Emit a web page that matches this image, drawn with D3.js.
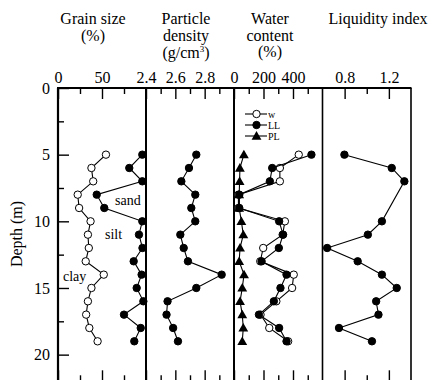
<!DOCTYPE html>
<html>
<head>
<meta charset="utf-8">
<script src="https://cdn.jsdelivr.net/npm/d3@7"></script>
<style>
  html, body { margin: 0; padding: 0; background: #fff; }
  svg { display: block; }
  svg text { font-family: "Liberation Serif", "Times New Roman", Times, "DejaVu Serif", serif !important; }
</style>
</head>
<body>
<svg id="chart" width="435" height="380"></svg>
<script>
// ---------- data ----------
const depths = [5, 6, 7, 8, 9, 10, 11, 12, 13, 14, 15, 16, 17, 18, 19];
const clay = [54.5, 38, 40, 22.4, 24, 37, 34, 35, 31.5, 52, 38, 34, 32, 35.6, 45];
const claySilt = [95.8, 81, 95.8, 44, 52.6, 95.8, 92, 96, 86, 95, 89.4, 97, 75, 94, 86.7];
const density = [2.743, 2.693, 2.641, 2.736, 2.709, 2.736, 2.634, 2.657, 2.686, 2.916, 2.743, 2.547, 2.54, 2.585, 2.618];
const waterW = [439, 311, 311, 30, 30, 345, 330, 198, 178, 405, 394, 287, 180, 239, 367];
const waterLL = [525, 259, 243, 36, 36, 306, 333, 304, 187, 356, 315, 270, 169, 306, 356];
const waterPL = [67, 40, 38, 35, 35, 50, 63, 41, 35, 68, 56, 41, 56, 63, 56];
const liDepths = [5, 6, 7, 10, 11, 12, 13, 14, 15, 16, 17, 18, 19];
const liquidity = [0.798, 1.226, 1.34, 1.137, 1.01, 0.642, 0.918, 1.137, 1.271, 1.085, 1.106, 0.749, 1.047];

const depthMajor = [0, 5, 10, 15, 20];
const depthMinor = [2.5, 7.5, 12.5, 17.5];
const grainLabels = [0, 50];
const grainMinor = [25, 75];
const densLabels = [2.4, 2.6, 2.8];
const densMinor = [2.5, 2.7, 2.9];
const waterLabels = [0, 200, 400];
const waterMinor = [100, 300, 500];
const liLabels = [0.8, 1.2];
const liMinor = [1.0];

// ---------- layout ----------
const FONT = '"Liberation Serif", "Times New Roman", Times, "DejaVu Serif", serif';
const svg = d3.select("#chart");
const yTop = 88, yBot = 381.3;
const y = d3.scaleLinear().domain([0, 22]).range([yTop, yBot]);

const xGrain = d3.scaleLinear().domain([0, 100]).range([58, 146]);
const xDens = d3.scaleLinear().domain([2.4, 3.0]).range([146, 234]);
const xWater = d3.scaleLinear().domain([0, 600]).range([234, 322.5]);
const xLI = d3.scaleLinear().domain([0.6, 1.4]).range([322.5, 411]);

const R = 3.7;

function styleAxis(g) {
  g.attr("font-family", FONT);
  g.select(".domain").remove();
  g.selectAll("text").attr("font-size", 16).attr("font-family", FONT).attr("fill", "#000");
  g.selectAll("line").attr("stroke", "#000").attr("stroke-width", 1.4);
}

function topBottomAxes(x, labels, fmt, minor) {
  svg.append("g").attr("transform", `translate(0,${yTop})`)
    .call(d3.axisTop(x).tickValues(labels).tickSize(-11).tickPadding(5).tickFormat(fmt)).call(styleAxis);
  svg.append("g").attr("transform", `translate(0,${yTop})`)
    .call(d3.axisTop(x).tickValues(minor).tickSize(-6).tickFormat("")).call(styleAxis);
  svg.append("g").attr("transform", `translate(0,${yBot})`)
    .call(d3.axisBottom(x).tickValues(labels).tickSize(-11).tickFormat("")).call(styleAxis);
  svg.append("g").attr("transform", `translate(0,${yBot})`)
    .call(d3.axisBottom(x).tickValues(minor).tickSize(-6).tickFormat("")).call(styleAxis);
}

topBottomAxes(xGrain, grainLabels, d3.format("d"), grainMinor);
topBottomAxes(xDens, densLabels, d3.format(".1f"), densMinor);
topBottomAxes(xWater, waterLabels, d3.format("d"), waterMinor);
topBottomAxes(xLI, liLabels, d3.format(".1f"), liMinor);

// left depth axis
svg.append("g").attr("transform", `translate(58,0)`)
  .call(d3.axisLeft(y).tickValues(depthMajor).tickSize(-11).tickPadding(8).tickFormat(d3.format("d"))).call(styleAxis);
svg.append("g").attr("transform", `translate(58,0)`)
  .call(d3.axisLeft(y).tickValues(depthMinor).tickSize(-6).tickFormat("")).call(styleAxis);

// frame lines
svg.append("line").attr("x1", 57).attr("x2", 411.5).attr("y1", yTop).attr("y2", yTop)
  .attr("stroke", "#000").attr("stroke-width", 2);
svg.append("line").attr("x1", 57).attr("x2", 411.5).attr("y1", yBot).attr("y2", yBot)
  .attr("stroke", "#000").attr("stroke-width", 2);
[[xGrain.range()[0], 2.2], [xDens.range()[0], 2], [xWater.range()[0], 2], [xLI.range()[0], 1.6], [xLI.range()[1], 1.6]]
  .forEach(([xx, w]) => {
    svg.append("line").attr("x1", xx).attr("x2", xx).attr("y1", yTop).attr("y2", yBot)
      .attr("stroke", "#000").attr("stroke-width", w);
  });

// titles
function title(cx, lines) {
  lines.forEach(([txt, by]) => {
    svg.append("text").attr("x", cx).attr("y", by).attr("text-anchor", "middle")
      .attr("font-family", FONT).attr("font-size", 16).attr("fill", "#000").text(txt);
  });
}
title(93, [["Grain size", 24], ["(%)", 41]]);
title(186, [["Particle", 24], ["density", 41]]);
const gcm = svg.append("text").attr("x", 186).attr("y", 58).attr("text-anchor", "middle")
  .attr("font-family", FONT).attr("font-size", 16).attr("fill", "#000");
gcm.append("tspan").text("(g/cm");
gcm.append("tspan").attr("font-size", 9).attr("dy", -6).text("3");
gcm.append("tspan").attr("dy", 6).text(")");
title(270, [["Water", 24], ["content", 41], ["(%)", 57]]);
title(378, [["Liquidity index", 24]]);

// y label
svg.append("text").attr("transform", "translate(22,234) rotate(-90)")
  .attr("text-anchor", "middle").attr("font-family", FONT).attr("font-size", 16).attr("fill", "#000").text("Depth (m)");

// ---------- series ----------
function series(x, ds, vals, fill, sym) {
  const pts = ds.map((d, i) => [x(vals[i]), y(d)]);
  svg.append("path").attr("d", d3.line()(pts)).attr("fill", "none")
    .attr("stroke", "#000").attr("stroke-width", 1.1);
  if (sym) {
    svg.append("g").selectAll("path").data(pts).join("path")
      .attr("transform", p => `translate(${p[0]},${p[1] + 0.8})`)
      .attr("d", d3.symbol(d3.symbolTriangle, 42)())
      .attr("fill", "#000");
  } else {
    svg.append("g").selectAll("circle").data(pts).join("circle")
      .attr("cx", p => p[0]).attr("cy", p => p[1]).attr("r", R)
      .attr("fill", fill).attr("stroke", "#000").attr("stroke-width", 1);
  }
}

series(xGrain, depths, clay, "#fff");
series(xGrain, depths, claySilt, "#000");
series(xDens, depths, density, "#000");
series(xWater, depths, waterW, "#fff");
series(xWater, depths, waterLL, "#000");
series(xWater, depths, waterPL, "#000", true);
series(xLI, liDepths, liquidity, "#000");

// grain labels
[["sand", 115, 205], ["silt", 105, 239], ["clay", 63, 281]].forEach(([t, xx, yy]) => {
  svg.append("text").attr("x", xx).attr("y", yy).attr("font-family", FONT).attr("font-size", 14).attr("fill", "#000").text(t);
});

// legend
const legend = [["w", "#fff", false], ["LL", "#000", false], ["PL", "#000", true]];
legend.forEach(([t, fill, tri], i) => {
  const ly = 114 + i * 11;
  svg.append("line").attr("x1", 245).attr("x2", 267).attr("y1", ly).attr("y2", ly)
    .attr("stroke", "#000").attr("stroke-width", 1.1);
  if (tri) {
    svg.append("path").attr("transform", `translate(256.5,${ly + 0.8})`)
      .attr("d", d3.symbol(d3.symbolTriangle, 42)()).attr("fill", "#000");
  } else {
    svg.append("circle").attr("cx", 256.5).attr("cy", ly).attr("r", R)
      .attr("fill", fill).attr("stroke", "#000");
  }
  svg.append("text").attr("x", 268).attr("y", ly + 3.5).attr("font-family", FONT).attr("font-size", 10).attr("fill", "#000").text(t);
});
</script>
</body>
</html>
